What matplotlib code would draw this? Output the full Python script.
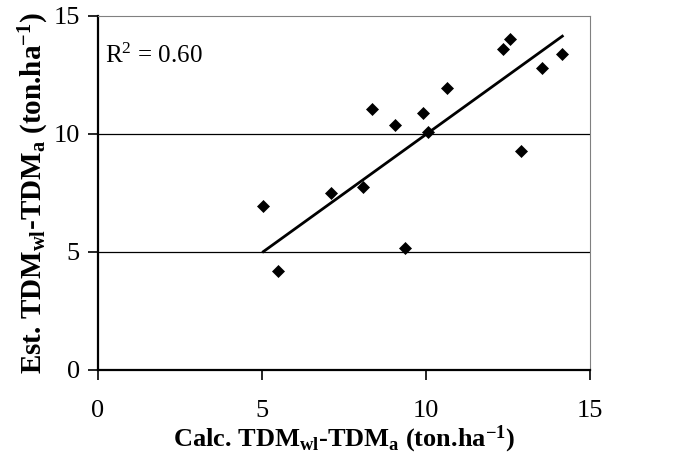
import matplotlib
matplotlib.use('Agg')
import matplotlib.pyplot as plt

# calculated vs estimated TDM difference (ton/ha)
calc = [5.04, 5.50, 7.09, 8.09, 8.35, 9.04, 9.35, 9.90, 10.05, 10.65,
        12.34, 12.55, 12.89, 13.54, 14.15]
est = [6.93, 4.19, 7.50, 7.73, 11.04, 10.39, 5.16, 10.89, 10.07, 11.93,
       13.61, 14.04, 9.27, 12.81, 13.39]
# trend line ends as drawn
trend_x = [5.04, 14.15]
trend_y = [5.01, 14.14]
ticks = [0, 5, 10, 15]
grid_y = [5, 10]
r2_text = 'R$^2$ = 0.60'

plt.rcParams['font.family'] = ['Liberation Serif', 'DejaVu Serif']
plt.rcParams['mathtext.fontset'] = 'custom'
plt.rcParams['mathtext.rm'] = 'Liberation Serif'
plt.rcParams['mathtext.it'] = 'Liberation Serif:italic'
plt.rcParams['mathtext.bf'] = 'Liberation Serif:bold'


def main():
    fig = plt.figure(figsize=(6.8, 4.67), dpi=100)
    ax = fig.add_axes([0.144, 0.208, 0.724, 0.758])

    for v in grid_y:
        ax.axhline(v, color='black', lw=0.9, zorder=1)

    ax.plot(trend_x, trend_y, color='black', lw=2.0, zorder=2)
    ax.plot(calc, est, 'D', color='black', markersize=6, mew=0.5, zorder=3)

    ax.set_xlim(0, 15)
    ax.set_ylim(0, 15)
    ax.set_xticks(ticks)
    ax.set_yticks(ticks)
    ax.tick_params(axis='both', direction='out', length=7, width=1.2,
                   labelsize=19)
    ax.tick_params(axis='x', pad=15)
    ax.tick_params(axis='y', pad=6)

    for side in ['top', 'right']:
        ax.spines[side].set_color('#808080')
        ax.spines[side].set_linewidth(0.8)
    for side in ['left', 'bottom']:
        ax.spines[side].set_linewidth(1.6)

    ax.set_xlabel(r'Calc. TDM$_{\mathbf{wl}}$-TDM$_{\mathbf{a}}$ (ton.ha$^{\mathbf{-1}}$)',
                  fontsize=19, fontweight='bold', labelpad=1)
    ax.set_ylabel(r'Est. TDM$_{\mathbf{wl}}$-TDM$_{\mathbf{a}}$ (ton.ha$^{\mathbf{-1}}$)',
                  fontsize=21, fontweight='bold', labelpad=2)

    ax.text(0.015, 0.867, r2_text, transform=ax.transAxes, fontsize=18,
            va='baseline')

    fig.savefig('out.png', dpi=100)


if __name__ == '__main__':
    main()
